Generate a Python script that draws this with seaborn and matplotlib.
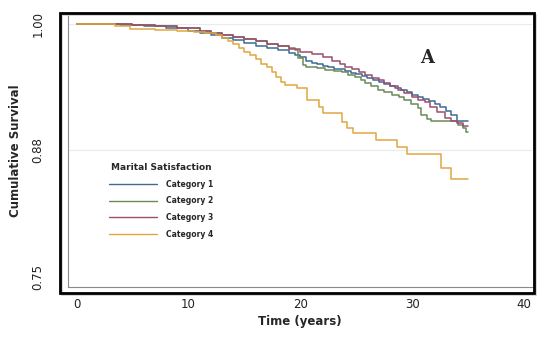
import pandas as pd
import matplotlib.pyplot as plt
import seaborn as sns
from matplotlib.patches import Rectangle

# Kaplan-Meier style step points (time in years, cumulative survival)
cat1_t = [0, 4, 6, 8, 10, 11, 12, 13, 14, 15, 16, 17, 18, 19, 19.5, 20, 20.5, 21, 21.5, 22,
          22.5, 23, 24, 24.5, 25, 25.5, 26, 26.5, 27, 27.5, 28, 28.5, 29, 29.5, 30, 30.5,
          31, 31.5, 32, 32.5, 33, 33.5, 34, 35]
cat1_s = [1.000, 0.999, 0.998, 0.996, 0.993, 0.991, 0.989, 0.986, 0.984, 0.981, 0.978, 0.976,
          0.974, 0.971, 0.969, 0.967, 0.964, 0.962, 0.961, 0.959, 0.958, 0.956, 0.954, 0.952,
          0.951, 0.949, 0.947, 0.945, 0.943, 0.941, 0.939, 0.937, 0.935, 0.933, 0.930, 0.928,
          0.926, 0.924, 0.921, 0.918, 0.914, 0.910, 0.904, 0.904]

cat2_t = [0, 5, 7, 9, 11, 12, 13, 14, 15, 16, 17, 18, 19, 19.5, 19.8, 20.2, 20.5, 21.5, 22.2,
          23, 23.7, 24.3, 24.9, 25.4, 25.8, 26.3, 26.9, 27.5, 28.2, 28.8, 29.3, 29.9, 30.5,
          30.8, 31.3, 31.7, 34.1, 34.5, 34.8, 35]
cat2_s = [1.000, 0.999, 0.998, 0.996, 0.993, 0.991, 0.989, 0.987, 0.985, 0.983, 0.980, 0.978,
          0.976, 0.974, 0.966, 0.960, 0.958, 0.957, 0.955, 0.954, 0.953, 0.950, 0.948, 0.945,
          0.942, 0.939, 0.935, 0.933, 0.930, 0.928, 0.925, 0.921, 0.917, 0.910, 0.906, 0.904,
          0.900, 0.897, 0.893, 0.893]

cat3_t = [0, 5, 7, 9, 11, 12, 13, 14, 15, 16, 17, 18, 19, 20, 21, 22, 22.8, 23.5, 24, 24.6,
          25.2, 25.8, 26.4, 27, 27.5, 28, 28.7, 29.3, 30, 30.5, 31.1, 31.6, 32.2, 32.9, 33.5,
          34, 34.5, 35]
cat3_s = [1.000, 0.999, 0.998, 0.996, 0.993, 0.991, 0.989, 0.987, 0.985, 0.983, 0.980, 0.978,
          0.975, 0.972, 0.970, 0.967, 0.964, 0.961, 0.958, 0.956, 0.953, 0.950, 0.947, 0.945,
          0.942, 0.939, 0.935, 0.932, 0.928, 0.925, 0.923, 0.918, 0.913, 0.907, 0.904, 0.902,
          0.899, 0.899]

cat4_t = [0, 3.4, 4.8, 7, 9, 10.5, 11.5, 12.5, 13, 13.5, 14, 14.5, 15, 15.5, 16, 16.5, 17,
          17.5, 17.8, 18.3, 18.6, 19.7, 20.6, 21.7, 22, 23.7, 24.2, 24.7, 26.8, 28.6, 29.5,
          32.6, 33.5, 35]
cat4_s = [1.000, 0.998, 0.995, 0.994, 0.993, 0.992, 0.991, 0.989, 0.986, 0.983, 0.980, 0.976,
          0.972, 0.969, 0.965, 0.961, 0.958, 0.953, 0.948, 0.943, 0.940, 0.937, 0.925, 0.918,
          0.912, 0.903, 0.897, 0.892, 0.885, 0.878, 0.872, 0.858, 0.847, 0.847]

categories = ['Category 1', 'Category 2', 'Category 3', 'Category 4']
colors = ['#3d6a96', '#6b8a58', '#9b4d6c', '#e2a63e']

frames = []
for name, t, s in zip(categories, [cat1_t, cat2_t, cat3_t, cat4_t],
                      [cat1_s, cat2_s, cat3_s, cat4_s]):
    frames.append(pd.DataFrame({'Time': t, 'Survival': s, 'Group': name}))
df = pd.concat(frames, ignore_index=True)

sns.set_style("white")
plt.rcParams['font.family'] = ['DejaVu Sans']

W, H = 550, 337
fig = plt.figure(figsize=(5.5, 3.37), dpi=100)
# axes box in pixels: left 68, right 532, top 15, bottom 287
ax = fig.add_axes([68 / W, 1 - 287 / H, (532 - 68) / W, (287 - 15) / H])

sns.lineplot(data=df, x='Time', y='Survival', hue='Group', palette=colors,
             drawstyle='steps-post', linewidth=1.1, estimator=None, sort=False,
             legend=False, ax=ax)

ax.set_xlim(-0.76, 40.7)
ax.set_ylim(0.740, 1.009)
ax.set_xticks([0, 10, 20, 30, 40])
ax.set_yticks([0.75, 0.875, 1.0])
ax.set_yticklabels(['0.75', '0.88', '1.00'])
for y in [0.875, 1.0]:
    ax.axhline(y, color='#e6ecee', lw=0.8, zorder=0)

for side in ['top', 'right']:
    ax.spines[side].set_visible(False)
for side in ['left', 'bottom']:
    ax.spines[side].set_color('#8a8a8a')
    ax.spines[side].set_linewidth(0.8)

ax.tick_params(axis='both', direction='out', length=3, width=0.8, color='#8a8a8a',
               labelsize=8.5, labelcolor='#222222')
ax.tick_params(axis='x', pad=5)
ax.tick_params(axis='y', pad=14, labelrotation=90)
for lab in ax.get_yticklabels():
    lab.set_va('center')

ax.set_xlabel('Time (years)', fontsize=8.5, fontweight='bold', labelpad=3)
ax.set_ylabel('Cumulative Survival', fontsize=8.5, fontweight='bold', labelpad=7)

ax.text(31.3, 0.966, 'A', fontsize=13, fontweight='bold', family='DejaVu Serif',
        ha='center', va='center')

handles = [plt.Line2D([], [], color=c, lw=1.0) for c in colors]
leg = ax.legend(handles, categories, title='Marital Satisfaction', loc='upper left',
                bbox_to_anchor=(103 / W, 1 - 157 / H), bbox_transform=fig.transFigure,
                frameon=False, prop={'size': 5.5, 'weight': 'bold'},
                title_fontproperties={'size': 6.5, 'weight': 'bold'},
                handlelength=6.3, handletextpad=1.2, labelspacing=1.0, borderpad=0.3,
                alignment='left')
leg.get_title().set_position((2, 0))

# outer black frame with a light shadow
fig.patches.append(Rectangle((62 / W, 1 - 295 / H), (536 - 62) / W, (295 - 15) / H,
                             transform=fig.transFigure, fill=False, ec='#d0d0d0', lw=1.2))
fig.patches.append(Rectangle((60 / W, 1 - 293 / H), (534 - 60) / W, (293 - 13) / H,
                             transform=fig.transFigure, fill=False, ec='black', lw=2.0))

fig.savefig('out.png', dpi=100)
